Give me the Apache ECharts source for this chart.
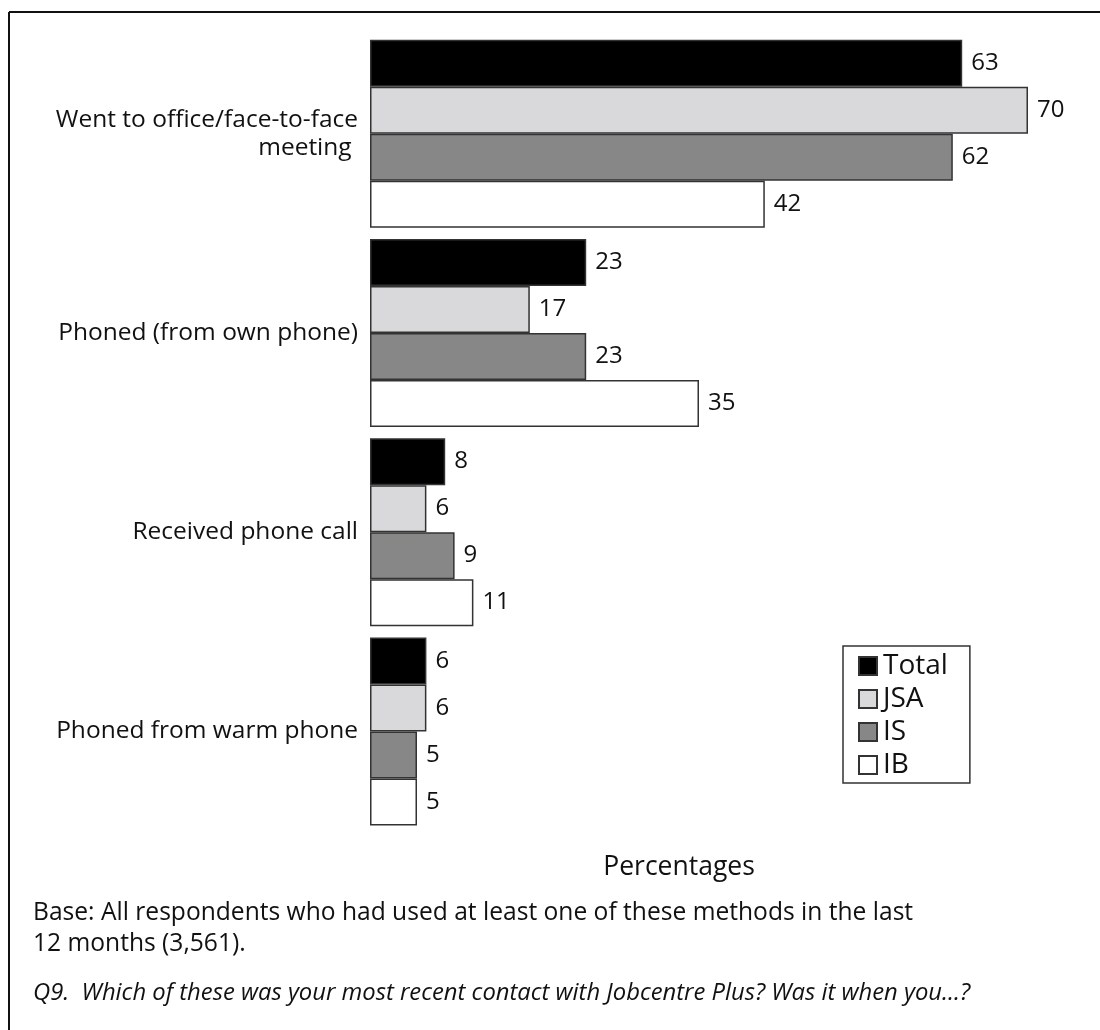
<!DOCTYPE html>
<html>
<head>
<meta charset="utf-8">
<script src="https://cdn.jsdelivr.net/npm/echarts@6/dist/echarts.min.js"></script>
<style>
html,body{margin:0;padding:0;background:#fff;}
#chart{width:1100px;height:1030px;}
</style>
</head>
<body>
<div id="chart"></div>
<script>
const categories = ['Went to office/face-to-face\nmeeting ', 'Phoned (from own phone)', 'Received phone call', 'Phoned from warm phone'];
const seriesNames = ['Total', 'JSA', 'IS', 'IB'];
const totalValues = [63, 23, 8, 6];
const jsaValues = [70, 17, 6, 6];
const isValues = [62, 23, 9, 5];
const ibValues = [42, 35, 11, 5];
const seriesColors = ['#000000', '#d9d9db', '#878787', '#ffffff'];
const axisTitle = 'Percentages';
const baseNote = 'Base: All respondents who had used at least one of these methods in the last\n12 months (3,561).';
const questionNote = 'Q9.  Which of these was your most recent contact with Jobcentre Plus? Was it when you...?';

const FONT = '"Open Sans", sans-serif';
const allValues = [totalValues, jsaValues, isValues, ibValues];

const chart = echarts.init(document.getElementById('chart'), null, {renderer: 'canvas'});
chart.setOption({
  animation: false,
  backgroundColor: '#ffffff',
  textStyle: {fontFamily: FONT},
  grid: {left: 370, right: 72, top: 34, bottom: 199, containLabel: false},
  xAxis: {
    type: 'value', min: 0, max: 70,
    show: false
  },
  yAxis: {
    type: 'category', data: categories, inverse: true,
    axisLine: {show: false}, axisTick: {show: false}, splitLine: {show: false},
    axisLabel: {
      fontFamily: FONT, fontSize: 24.5, color: '#111', margin: 12,
      align: 'right', lineHeight: 28
    }
  },
  legend: {
    orient: 'vertical', left: 843, top: 646,
    data: seriesNames,
    icon: 'rect',
    itemWidth: 18, itemHeight: 18, itemGap: 3,
    padding: [5, 22, 3, 15],
    borderColor: '#333', borderWidth: 1.5,
    textStyle: {fontFamily: FONT, fontSize: 28, color: '#111', lineHeight: 30, padding: [0, 0, 0, 1]},
    selectedMode: false
  },
  series: seriesNames.map((name, i) => ({
    name: name,
    type: 'bar',
    data: allValues[i],
    barWidth: 47,
    barGap: '0%',
    itemStyle: {color: seriesColors[i], borderColor: '#333', borderWidth: 1.5},
    label: {
      show: true, position: 'right', distance: 9,
      fontFamily: FONT, fontSize: 24, color: '#111'
    }
  })),
  graphic: [
    {type: 'line', shape: {x1: 9, y1: 12, x2: 1100, y2: 12}, style: {stroke: '#111', lineWidth: 2}},
    {type: 'line', shape: {x1: 9, y1: 12, x2: 9, y2: 1030}, style: {stroke: '#111', lineWidth: 2}},
    {type: 'text', x: 679, y: 867, style: {text: axisTitle, font: '26.5px ' + FONT, fill: '#111', textAlign: 'center', textVerticalAlign: 'middle'}},
    {type: 'text', x: 33, y: 897, style: {text: baseNote, font: '24.6px ' + FONT, fill: '#111', lineHeight: 31, textAlign: 'left', textVerticalAlign: 'top'}},
    {type: 'text', x: 33, y: 993, style: {text: questionNote, font: 'italic 23.8px ' + FONT, fill: '#111', textAlign: 'left', textVerticalAlign: 'middle'}}
  ]
});
</script>
</body>
</html>
